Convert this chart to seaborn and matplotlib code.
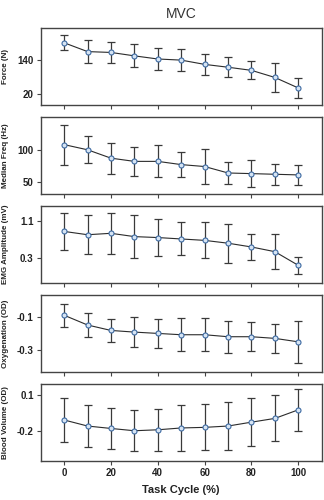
import numpy as np
import pandas as pd
import matplotlib
matplotlib.use("Agg")
import matplotlib.pyplot as plt
import seaborn as sns

# task cycle positions (%)
task_cycle = [0, 10, 20, 30, 40, 50, 60, 70, 80, 90, 100]

force_mean = [200, 169, 166, 154, 143, 139, 124, 114, 103, 78, 41]
force_sd = [27, 40, 38, 40, 38, 40, 36, 36, 32, 50, 35]

freq_mean = [108, 100, 87, 82, 82, 77, 74, 64, 63, 62, 61]
freq_sd = [31, 21, 24, 23, 25, 20, 27, 17, 21, 16, 16]

emg_mean = [0.87, 0.80, 0.83, 0.76, 0.74, 0.71, 0.68, 0.62, 0.54, 0.44, 0.15]
emg_sd = [0.40, 0.41, 0.44, 0.46, 0.39, 0.35, 0.38, 0.41, 0.28, 0.375, 0.18]

oxy_mean = [-0.088, -0.147, -0.180, -0.190, -0.198, -0.206, -0.206, -0.218, -0.218, -0.228, -0.249]
oxy_sd = [0.070, 0.070, 0.070, 0.090, 0.088, 0.100, 0.100, 0.098, 0.089, 0.089, 0.129]

bv_mean = [-0.108, -0.158, -0.178, -0.197, -0.189, -0.174, -0.169, -0.158, -0.126, -0.095, -0.024]
bv_sd = [0.178, 0.170, 0.168, 0.168, 0.175, 0.190, 0.190, 0.200, 0.200, 0.190, 0.173]

labels = ["Force (N)", "Median Freq (Hz)", "EMG Amplitude (mV)", "Oxygenation (OD)", "Blood Volume (OD)"]
means = [force_mean, freq_mean, emg_mean, oxy_mean, bv_mean]
sds = [force_sd, freq_sd, emg_sd, oxy_sd, bv_sd]
yticks = [[20, 140], [50, 100], [0.3, 1.1], [-0.3, -0.1], [-0.2, 0.1]]
ytick_labels = [["20", "140"], ["50", "100"], ["0.3", "1.1"], ["-0.3", "-0.1"], ["-0.2", "0.1"]]
ylims = [(-20, 252), (31, 151), (-0.228, 1.413), (-0.432, 0.036), (-0.447, 0.192)]
xticks = [0, 20, 40, 60, 80, 100]

sns.set_style("ticks")
plt.rcParams["font.family"] = ["Liberation Sans", "DejaVu Sans"]

fig, axes = plt.subplots(5, 1, figsize=(3.24, 5.0), dpi=100, sharex=True)
fig.subplots_adjust(left=0.1256, right=0.993, top=0.944, bottom=0.078, hspace=0.15)

for ax, lab, m, s, yt, ytl, yl in zip(axes, labels, means, sds, yticks, ytick_labels, ylims):
    df = pd.DataFrame({"x": task_cycle, "y": m, "sd": s})
    ax.errorbar(df["x"], df["y"], yerr=df["sd"], fmt="none", ecolor="#3a3a3a",
                elinewidth=0.9, capsize=2.6, capthick=0.9, zorder=1)
    sns.lineplot(data=df, x="x", y="y", ax=ax, color="#2b2b2b", linewidth=0.8,
                 marker="o", markersize=3.6, markerfacecolor="#d6e4f3",
                 markeredgecolor="#3d6aa2", markeredgewidth=0.8, zorder=2)
    ax.set_xlim(-10, 110)
    ax.set_ylim(*yl)
    ax.set_yticks(yt)
    ax.set_yticklabels(ytl, fontsize=7, fontweight="bold", color="#222222")
    ax.set_xticks(xticks)
    ax.set_ylabel(lab, fontsize=5.8, fontweight="bold", color="#222222")
    ax.yaxis.set_label_coords(-0.112, 0.5)
    ax.set_xlabel("")
    for sp in ax.spines.values():
        sp.set_visible(True)
        sp.set_color("#444444")
        sp.set_linewidth(1.0)
    ax.tick_params(axis="both", length=3, width=0.8, color="#444444", pad=2)

axes[-1].set_xticklabels([str(t) for t in xticks], fontsize=7, fontweight="bold", color="#222222")
axes[-1].set_xlabel("Task Cycle (%)", fontsize=8, fontweight="bold", color="#222222", labelpad=5)
axes[0].set_title("MVC", fontsize=10, color="#333333", pad=7)

fig.savefig("out.png", dpi=100)
